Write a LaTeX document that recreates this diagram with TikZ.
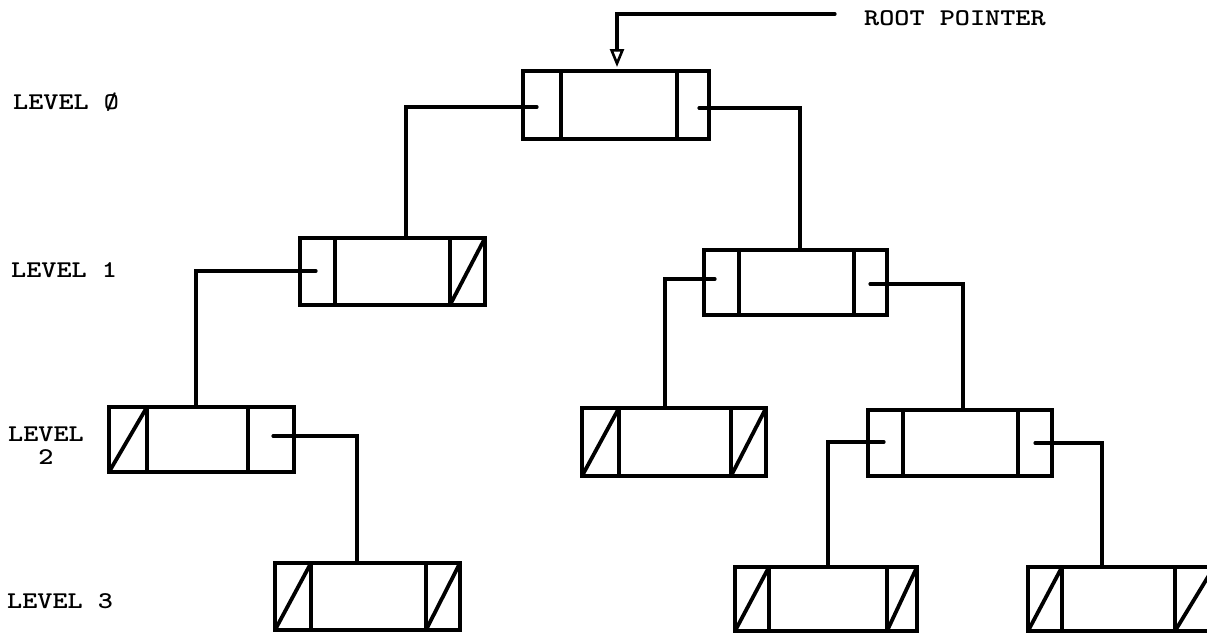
\documentclass[tikz,border=0pt]{standalone}
\usetikzlibrary{arrows.meta}
\newcommand\tw[1]{\scalebox{1.2}[1]{#1}}
\tikzset{
  box/.style={draw, rectangle, inner sep=0pt, outer sep=0pt, line width=3.2pt},
  wire/.style={line width=3.2pt, line cap=round, line join=miter},
  slashline/.style={line width=3.8pt, line cap=round},
  lbl/.style={font=\fontsize{24}{23}\selectfont\ttfamily\bfseries, inner sep=0pt, anchor=base west},
  ptr/.style={wire, -{Triangle[open, length=18pt, width=14pt, line width=2.6pt]}}
}
% name x1 y1 x2 y2 d1 d2 slashL slashR
\newcommand\mylistbox[9]{%
  \node[box, minimum width={(#4-#2)*1pt}, minimum height={(#5-#3)*1pt}] (#1) at ({(#2+#4)/2},{(#3+#5)/2}) {};
  \draw[wire] (#6,#3) -- (#6,#5) (#7,#3) -- (#7,#5);
  \ifnum#8=1 \draw[slashline] (#2,#5) -- (#6,#3);\fi
  \ifnum#9=1 \draw[slashline] (#7,#5) -- (#4,#3);\fi
}
\begin{document}
\begin{tikzpicture}[x=1pt, y=-1pt]
\useasboundingbox (0,0) rectangle (1207,633);
\clip (0,0) rectangle (1207,633);
\fill[white] (0,0) rectangle (1207,633);

% labels
\node[lbl] (l0) at (13,109) {\tw{LEVEL Ø}};
\node[lbl] (l1) at (11,277) {\tw{LEVEL 1}};
\node[lbl, align=center, anchor=north] (l2) at (46,427) {\tw{LEVEL}\\\tw{2}};
\node[lbl] (l3) at (7,608) {\tw{LEVEL 3}};
\node[lbl] (rptxt) at (864,25) {\tw{ROOT POINTER}};

% boxes
\mylistbox{R}{523}{71}{709}{139}{561}{677}{0}{0}
\mylistbox{A}{300}{238}{485}{305}{335}{450}{0}{1}
\mylistbox{B}{704}{250}{887}{315}{739}{854}{0}{0}
\mylistbox{C}{109}{407}{294}{472}{147}{248}{1}{0}
\mylistbox{D}{582}{408}{766}{476}{619}{731}{1}{1}
\mylistbox{E}{868}{410}{1052}{476}{903}{1018}{0}{0}
\mylistbox{F}{275}{563}{460}{630}{311}{426}{1}{1}
\mylistbox{G}{735}{567}{917}{631}{769}{887}{1}{1}
\mylistbox{H}{1028}{567}{1214}{631}{1062}{1175}{1}{1}

% connector end points
\coordinate (rp) at (835,14);
\coordinate (Rin) at (617,67);
\coordinate (Rl) at (537,107);
\coordinate (Rr) at (699,108);
\coordinate (Al) at (316,271);
\coordinate (Bl) at (715,279);
\coordinate (Br) at (870,284);
\coordinate (Cr) at (273,436);
\coordinate (El) at (884,442);
\coordinate (Er) at (1035,443);
\coordinate (Atop) at (406,238);
\coordinate (Btop) at (800,250);
\coordinate (Ctop) at (196,407);
\coordinate (Dtop) at (665,408);
\coordinate (Etop) at (963,410);
\coordinate (Ftop) at (357,563);
\coordinate (Gtop) at (828,567);
\coordinate (Htop) at (1102,567);

% connectors
\draw[ptr] (rp) -| (Rin);
\draw[wire] (Rl) -| (Atop);
\draw[wire] (Rr) -| (Btop);
\draw[wire] (Al) -| (Ctop);
\draw[wire] (Bl) -| (Dtop);
\draw[wire] (Br) -| (Etop);
\draw[wire] (Cr) -| (Ftop);
\draw[wire] (El) -| (Gtop);
\draw[wire] (Er) -| (Htop);
\end{tikzpicture}
\end{document}
